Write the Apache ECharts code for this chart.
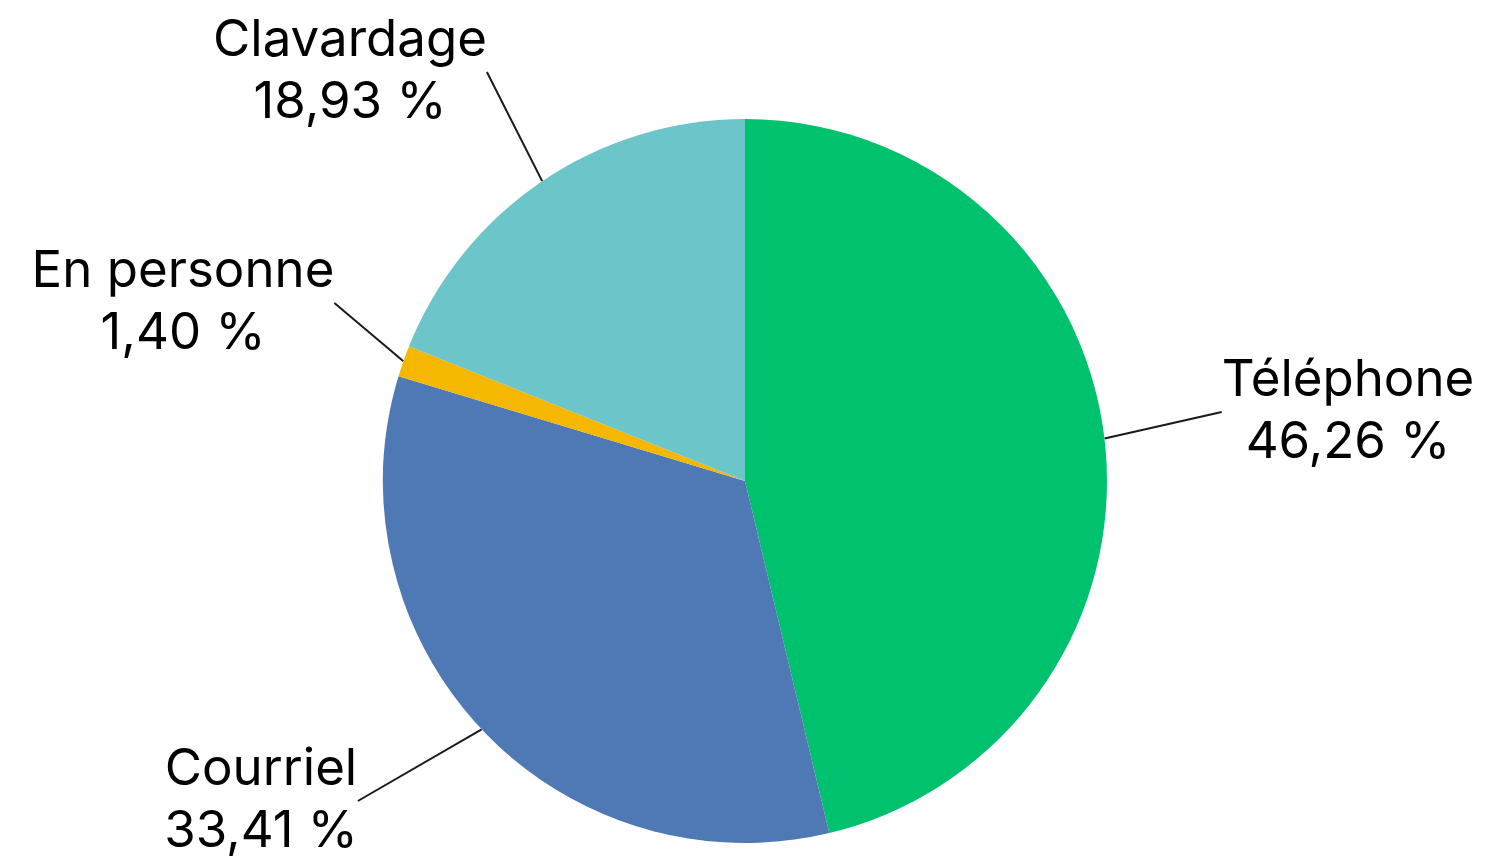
<!DOCTYPE html>
<html><head><meta charset="utf-8">
<script src="https://cdn.jsdelivr.net/npm/echarts@6/dist/echarts.min.js"></script>
<style>html,body{margin:0;padding:0;background:#fff}#c{width:1494px;height:858px}</style>
</head><body><div id="c"></div>
<script>
const categories = ['Téléphone', 'Courriel', 'En personne', 'Clavardage'];
const values = [46.26, 33.41, 1.40, 18.93];
const colors = ['#00C16E', '#4F79B5', '#F5B700', '#6BC5C9'];
// label anchor positions (centre of text block)
const labelPos = [[1348, 412], [261, 801], [183, 303], [350, 72]];

const chart = echarts.init(document.getElementById('c'));
chart.setOption({
  animation: false,
  series: [{
    type: 'pie',
    center: [745, 481],
    radius: [0, 362],
    startAngle: 90,
    clockwise: true,
    data: categories.map((n, i) => ({
      name: n, value: values[i], itemStyle: { color: colors[i] },
      labelLine: i === 1 ? { smooth: 0.3 } : {}
    })),
    label: {
      show: true,
      formatter: p => p.name + '\n' + p.value.toFixed(2).replace('.', ',') + ' %',
      fontFamily: 'Inter',
      fontSize: 51,
      lineHeight: 62,
      color: '#000',
      align: 'center'
    },
    labelLine: { show: true, lineStyle: { color: '#1a1a1a', width: 2 }, length: 30, length2: 0 },
    labelLayout: p => ({ x: labelPos[p.dataIndex][0], y: labelPos[p.dataIndex][1], align: 'center', verticalAlign: 'middle' }),
    emphasis: { disabled: true }
  }]
});
</script></body></html>
